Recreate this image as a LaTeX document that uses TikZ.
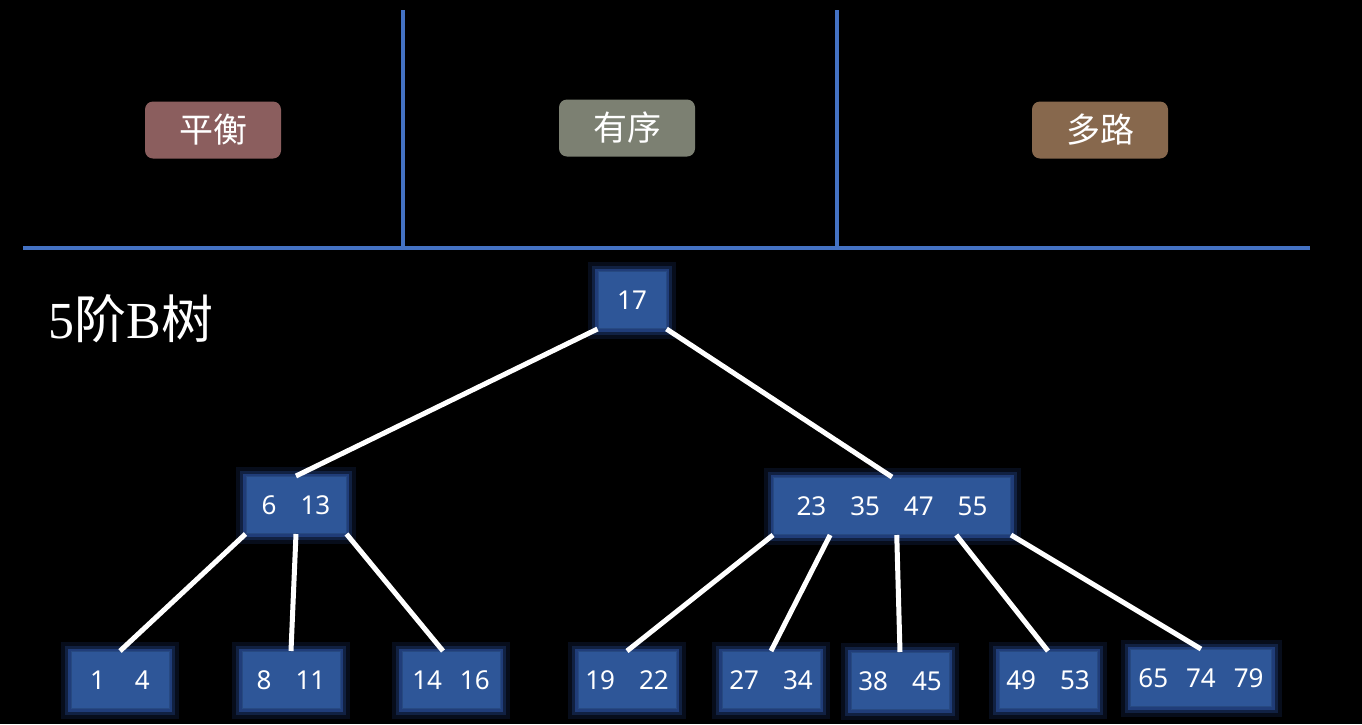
\documentclass[tikz,border=0pt]{standalone}
\usepackage{fontspec}
\setmainfont{Liberation Serif}
\newfontfamily\cjk{Noto Sans CJK SC}
\newfontfamily\numfont{Noto Sans}
\usetikzlibrary{positioning, calc}

\definecolor{lineblue}{RGB}{68,114,196}
\definecolor{keyblue}{RGB}{46,86,152}
\definecolor{glowblue}{RGB}{60,115,225}
\definecolor{tagred}{RGB}{139,94,94}
\definecolor{taggreen}{RGB}{124,128,114}
\definecolor{tagbrown}{RGB}{135,104,77}

\newcommand{\sep}{\hspace{12pt}}

\begin{document}
\begin{tikzpicture}[
    x=0.5pt, y=-0.5pt,
    tag/.style={fill=#1, rounded corners=4pt, minimum width=68pt, minimum height=28.5pt,
        text=white, font=\cjk\fontsize{17}{17}\selectfont},
    keybox/.style={fill=keyblue, draw=keyblue!85!black, line width=0.5pt,
        minimum width=#1, minimum height=28.5pt, inner sep=0pt,
        text=white, font=\numfont\fontsize{13}{13}\selectfont,
        preaction={draw=glowblue, line width=10pt, draw opacity=0.12},
        preaction={draw=glowblue, line width=6pt, draw opacity=0.2},
        preaction={draw=glowblue, line width=3pt, draw opacity=0.35}},
    keybox/.default=49pt,
    link/.style={draw=white, line width=2.5pt},
    wall/.style={draw=lineblue, line width=2.2pt},
]
  \fill[black] (0,0) rectangle (1362,724);
  \useasboundingbox (0,0) rectangle (1362,724);

  % three properties
  \draw[wall] (23,248) -- (1310,248);
  \draw[wall] (403,10) -- (403,248);
  \draw[wall] (837,10) -- (837,248);
  \node[tag=tagred] (bal) at (213,130) {平衡};
  \node[tag=taggreen] (ord) at (627,128) {有序};
  \node[tag=tagbrown] (multi) at (1100,130) {多路};

  \node[anchor=base west, inner sep=0pt, text=white, font=\fontsize{26}{26}\selectfont] (title) at (48,338)
    {5{\cjk 阶}B{\cjk 树}};

  % the tree
  \node[keybox=34pt] (root) at (632,300) {17};
  \node[keybox=50pt] (left) at (296,505) {6\sep 13};
  \node[keybox=118.5pt] (right) at (892,506) {23\sep 35\sep 47\sep 55};

  \node[keybox] (l1) at (120,680) {1\sep\hspace{3pt}4};
  \node[keybox] (l2) at (291,680) {8\sep 11};
  \node[keybox] (l3) at (451,680) {14\hspace{9pt}16};
  \node[keybox] (l4) at (627,680) {19\sep 22};
  \node[keybox] (l5) at (771,680) {27\sep 34};
  \node[keybox] (l6) at (900,681) {38\sep 45};
  \node[keybox] (l7) at (1048,680) {49\sep 53};
  \node[keybox=70.5pt] (l8) at (1201,678) {65\hspace{9pt}74\hspace{9pt}79};

  \draw[link] (root.south west) -- (left.north);
  \draw[link] (root.south east) -- (right.north);

  \draw[link] (left.south west) -- (l1.north);
  \draw[link] (left.south) -- (l2.north);
  \draw[link] (left.south east) -- ($(l3.north)+(-8,0)$);

  \draw[link] (right.south west) -- (l4.north);
  \draw[link] ($(right.south west)!0.24!(right.south east)$) -- (l5.north);
  \draw[link] ($(right.south west)!0.52!(right.south east)$) -- (l6.north);
  \draw[link] ($(right.south west)!0.77!(right.south east)$) -- (l7.north);
  \draw[link] (right.south east) -- (l8.north);
\end{tikzpicture}
\end{document}
